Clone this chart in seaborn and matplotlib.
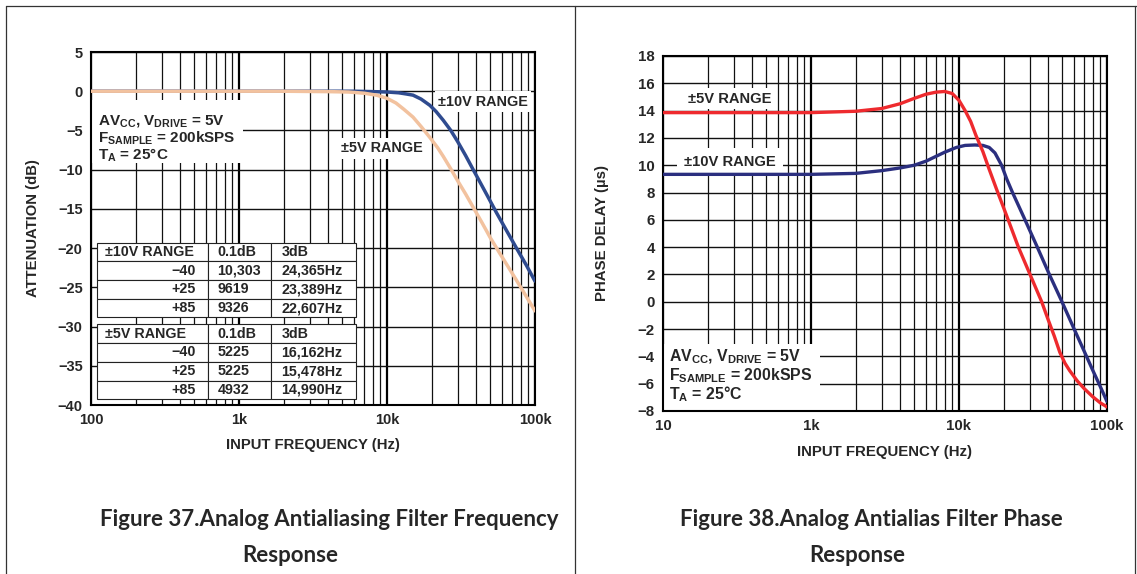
import numpy as np
import pandas as pd
import matplotlib
matplotlib.use('Agg')
import matplotlib.pyplot as plt
import seaborn as sns
from matplotlib.ticker import LogLocator, NullFormatter
from matplotlib.patches import Rectangle
from matplotlib.lines import Line2D

# Figure 37 - attenuation (dB) vs input frequency (Hz)
freq_10v = [100, 1000, 3000, 6000, 8000, 10000, 12000, 13500, 15000, 17000, 19500,
            21500, 24000, 27000, 30000, 34000, 38000, 42000, 47000, 55000, 64000,
            75000, 87000, 100000]
atten_10v = [0, 0, 0, 0, -0.05, -0.1, -0.2, -0.35, -0.5, -1.0, -1.8,
             -2.6, -3.7, -5.0, -6.4, -8.2, -9.9, -11.4, -13.1, -15.5, -17.7,
             -20.0, -22.1, -24.2]
freq_5v = [100, 1000, 2000, 4000, 5500, 7000, 8500, 10000, 11500, 13000, 15000,
           17000, 19500, 22000, 24000, 27000, 30000, 34000, 38000, 44000, 50000,
           58000, 66000, 75000, 87000, 100000]
atten_5v = [0, 0, 0, -0.05, -0.1, -0.25, -0.5, -0.9, -1.5, -2.3, -3.3,
            -4.5, -5.9, -7.2, -8.3, -9.9, -11.4, -13.1, -14.7, -16.8, -18.7,
            -20.7, -22.4, -24.1, -26.1, -28.0]

table_10v = [['±10V RANGE', '0.1dB', '3dB'],
             ['\u221240', '10,303', '24,365Hz'],
             ['+25', '9619', '23,389Hz'],
             ['+85', '9326', '22,607Hz']]
table_5v = [['±5V RANGE', '0.1dB', '3dB'],
            ['\u221240', '5225', '16,162Hz'],
            ['+25', '5225', '15,478Hz'],
            ['+85', '4932', '14,990Hz']]

# Figure 38 - phase delay (us) vs input frequency (Hz)
pfreq_5v = [100, 300, 1000, 2000, 3000, 4000, 5000, 6000, 7000, 8000, 9000, 10000,
            11000, 12000, 13000, 14500, 16000, 18000, 20000, 21500, 25200, 30200,
            36200, 40000, 44000, 48000, 52000, 56000, 63000, 70000, 80000, 90000, 100000]
delay_5v = [13.85, 13.85, 13.85, 13.95, 14.15, 14.5, 14.9, 15.2, 15.35, 15.4, 15.25, 14.75,
            14.0, 13.2, 12.2, 11.0, 9.7, 8.2, 6.9, 6.0, 4.0, 2.0,
            0.0, -1.3, -2.5, -3.7, -4.5, -5.05, -5.8, -6.35, -6.95, -7.4, -7.7]
pfreq_10v = [100, 300, 1000, 2000, 3000, 4000, 5000, 6000, 7000, 8000, 9600, 11000,
             12800, 14500, 16000, 17500, 19400, 21000, 23000, 27400, 33500, 40800,
             49400, 60000, 70000, 80000, 90000, 100000]
delay_10v = [9.33, 9.33, 9.33, 9.4, 9.6, 9.8, 10.0, 10.3, 10.65, 10.95, 11.3, 11.45,
             11.48, 11.45, 11.3, 10.9, 10.0, 9.0, 8.0, 6.2, 4.1, 2.0,
             0.05, -2.0, -3.6, -5.0, -6.2, -7.3]

x_ticks = [100, 1000, 10000, 100000]
left_xlabels = ['100', '1k', '10k', '100k']
right_xlabels = ['10', '1k', '10k', '100k']
left_yticks = list(range(-40, 6, 5))
right_yticks = list(range(-8, 19, 2))

sns.set_style('white')
plt.rcParams['font.family'] = ['Liberation Sans', 'DejaVu Sans']
plt.rcParams['font.weight'] = 'bold'
plt.rcParams['axes.labelweight'] = 'bold'
plt.rcParams['mathtext.fontset'] = 'custom'
plt.rcParams['mathtext.rm'] = 'Liberation Sans:bold'
plt.rcParams['mathtext.it'] = 'Liberation Sans:bold'
plt.rcParams['mathtext.bf'] = 'Liberation Sans:bold'

fig = plt.figure(figsize=(11.37, 5.74), dpi=100)
ax1 = fig.add_axes([0.0800, 0.2944, 0.3905, 0.615])
ax2 = fig.add_axes([0.5831, 0.284, 0.3905, 0.6185])


def style_axis(ax, ylim, yticks, xlabels, size):
    ax.set_xscale('log')
    ax.set_xlim(100, 100000)
    ax.set_ylim(*ylim)
    ax.set_xticks(x_ticks)
    ax.set_xticklabels(xlabels)
    ax.xaxis.set_minor_locator(LogLocator(base=10, subs=np.arange(2, 10)))
    ax.xaxis.set_minor_formatter(NullFormatter())
    ax.set_yticks(yticks)
    ax.set_axisbelow(True)
    ax.grid(which='major', axis='x', color='black', lw=1.6)
    ax.grid(which='minor', axis='x', color='#111111', lw=0.9)
    ax.grid(which='major', axis='y', color='#111111', lw=1.0)
    ax.tick_params(which='both', length=0, labelsize=size, pad=6)
    for lab in ax.get_xticklabels() + ax.get_yticklabels():
        lab.set_fontweight('bold')
    for s in ax.spines.values():
        s.set_visible(True)
        s.set_color('black')
        s.set_linewidth(1.5)


# ---- left chart
df_att = pd.concat([
    pd.DataFrame({'freq': freq_10v, 'db': atten_10v, 'range': '±10V'}),
    pd.DataFrame({'freq': freq_5v, 'db': atten_5v, 'range': '±5V'}),
])
style_axis(ax1, (-40, 5), left_yticks, left_xlabels, 10.5)
sns.lineplot(data=df_att, x='freq', y='db', hue='range', hue_order=['±10V', '±5V'],
             palette={'±10V': '#2f4b8f', '±5V': '#f2c29f'}, linewidth=2.5,
             legend=False, sort=False, ax=ax1, zorder=4)
ax1.set_xlabel('INPUT FREQUENCY (Hz)', fontsize=10.7, fontweight='bold')
ax1.set_ylabel('ATTENUATION (dB)', fontsize=10.7, fontweight='bold')
ax1.xaxis.set_label_coords(0.5, -0.093)
ax1.yaxis.set_label_coords(-0.115, 0.5)

ax1.add_patch(Rectangle((0.003, 0.686), 0.339, 0.178, transform=ax1.transAxes,
                        facecolor='white', edgecolor='none', zorder=2))
ax1.text(0.016, 0.826, 'AV$_{CC}$, V$_{DRIVE}$ = 5V\nF$_{SAMPLE}$ = 200kSPS\nT$_{A}$ = 25°C',
         transform=ax1.transAxes, ha='left', va='top', fontsize=11,
         fontweight='bold', linespacing=0.98, zorder=3)
box = dict(facecolor='white', edgecolor='none', pad=2.5)
ax1.text(0.883, 0.859, '±10V RANGE', transform=ax1.transAxes, ha='center',
         va='center', fontsize=10.4, fontweight='bold', bbox=box, zorder=3)
ax1.text(0.655, 0.727, '±5V RANGE', transform=ax1.transAxes, ha='center',
         va='center', fontsize=10.4, fontweight='bold', bbox=box, zorder=3)


def draw_table(ax, rows, bbox):
    tb = ax.table(cellText=rows, bbox=bbox, colWidths=[0.427, 0.245, 0.327],
                  cellLoc='left', zorder=3)
    tb.auto_set_font_size(False)
    tb.set_fontsize(10.3)
    for (r, c), cell in tb.get_celld().items():
        cell.set_linewidth(0.8)
        cell.set_edgecolor('#222222')
        cell.set_facecolor('white')
        cell.get_text().set_fontweight('bold')
        cell.PAD = [0.07, 0.155, 0.12][c]
        if c == 0 and r > 0:
            cell.get_text().set_ha('right')
            cell.PAD = 0.11
    return tb


draw_table(ax1, table_10v, [0.0135, 0.248, 0.583, 0.212])
draw_table(ax1, table_5v, [0.0135, 0.016, 0.583, 0.213])

# ---- right chart
df_ph = pd.concat([
    pd.DataFrame({'freq': pfreq_10v, 'us': delay_10v, 'range': '±10V'}),
    pd.DataFrame({'freq': pfreq_5v, 'us': delay_5v, 'range': '±5V'}),
])
style_axis(ax2, (-8, 18), right_yticks, right_xlabels, 10.8)
sns.lineplot(data=df_ph, x='freq', y='us', hue='range', hue_order=['±10V', '±5V'],
             palette={'±10V': '#2b2f7f', '±5V': '#ee2a2e'}, linewidth=2.4,
             legend=False, sort=False, ax=ax2, zorder=4)
ax2.set_xlabel('INPUT FREQUENCY (Hz)', fontsize=10.8, fontweight='bold')
ax2.set_ylabel('PHASE DELAY (µs)', fontsize=10.8, fontweight='bold')
ax2.xaxis.set_label_coords(0.5, -0.096)
ax2.yaxis.set_label_coords(-0.122, 0.5)

ax2.add_patch(Rectangle((0.003, 0.003), 0.35, 0.186, transform=ax2.transAxes,
                        facecolor='white', edgecolor='none', zorder=2))
ax2.text(0.0135, 0.178, 'AV$_{CC}$, V$_{DRIVE}$ = 5V\nF$_{SAMPLE}$ = 200kSPS\nT$_{A}$ = 25°C',
         transform=ax2.transAxes, ha='left', va='top', fontsize=11.4,
         fontweight='bold', linespacing=0.98, zorder=3)
ax2.text(0.151, 0.879, '±5V RANGE', transform=ax2.transAxes, ha='center',
         va='center', fontsize=10.6, fontweight='bold', bbox=box, zorder=3)
ax2.text(0.151, 0.701, '±10V RANGE', transform=ax2.transAxes, ha='center',
         va='center', fontsize=10.6, fontweight='bold',
         bbox=dict(facecolor='white', edgecolor='none', pad=5), zorder=3)

# ---- page frame and captions
for xy in [((0.0053, 0.0053), (0, 0.9895)), ((0.0053, 1.0), (0.9895, 0.9895)),
           ((0.5057, 0.5057), (0, 0.9895)), ((0.9985, 0.9985), (0, 0.9895))]:
    fig.add_artist(Line2D(xy[0], xy[1], color='#333333', lw=0.9))

cap = dict(fontsize=16, fontweight='bold', family=['Lato', 'DejaVu Sans'], ha='center', va='center')
fig.text(329.5 / 1137, 1 - 520 / 574, 'Figure 37.Analog Antialiasing Filter Frequency', **cap)
fig.text(290 / 1137, 1 - 556 / 574, 'Response', **cap)
fig.text(871 / 1137, 1 - 520 / 574, 'Figure 38.Analog Antialias Filter Phase', **cap)
fig.text(857 / 1137, 1 - 556 / 574, 'Response', **cap)

fig.savefig('out.png', dpi=100)
